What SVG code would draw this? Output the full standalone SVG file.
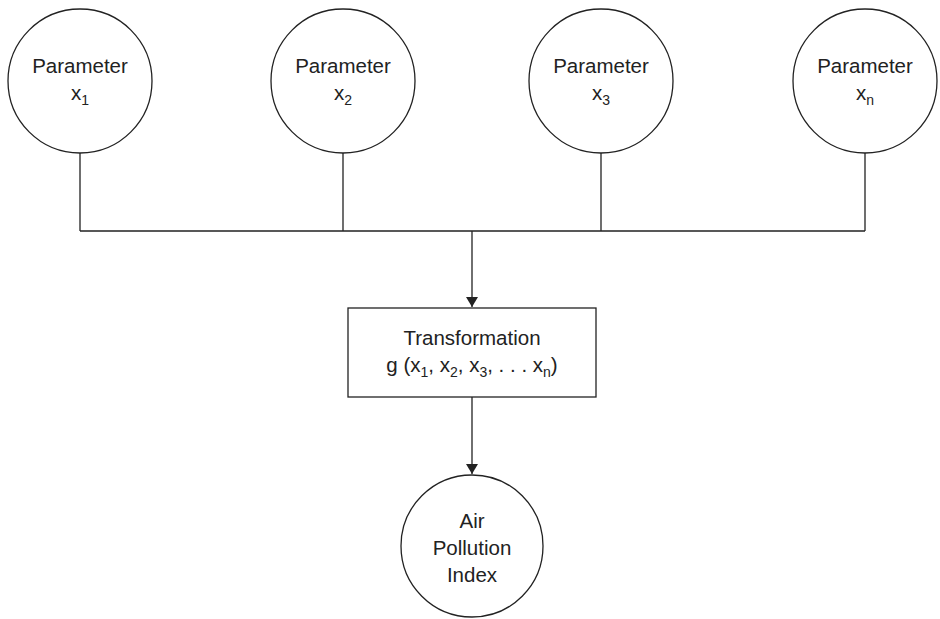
<svg xmlns="http://www.w3.org/2000/svg" width="940" height="619" viewBox="0 0 940 619">
<style>
.node{fill:#fff;stroke:#222;stroke-width:1.3}
.lbl{font-family:"Liberation Sans",Arial,sans-serif;font-size:20.5px;fill:#222;text-anchor:middle}
.sub{font-size:14px}
.conn{fill:none;stroke:#222;stroke-width:1.3}
</style>
<defs>
<marker id="arr" markerWidth="10" markerHeight="12" refX="10" refY="6" orient="auto" markerUnits="userSpaceOnUse">
<path d="M0,0 L10,6 L0,12 Z" fill="#222"/>
</marker>
</defs>
<rect width="940" height="619" fill="#fff"/>
<g id="connectors">
<path class="conn" d="M80,153 V231 M343,153 V231 M601,153 V231 M865,153 V231 M80,231 H865"/>
<path class="conn" d="M472,231 V307" marker-end="url(#arr)"/>
<path class="conn" d="M472,397 V474" marker-end="url(#arr)"/>
</g>
<g id="param1">
<circle class="node" cx="80" cy="81" r="72"/>
<text class="lbl" x="80" y="73">Parameter</text>
<text class="lbl" x="80" y="100">x<tspan class="sub" dy="5">1</tspan></text>
</g>
<g id="param2">
<circle class="node" cx="343" cy="81" r="72"/>
<text class="lbl" x="343" y="73">Parameter</text>
<text class="lbl" x="343" y="100">x<tspan class="sub" dy="5">2</tspan></text>
</g>
<g id="param3">
<circle class="node" cx="601" cy="81" r="72"/>
<text class="lbl" x="601" y="73">Parameter</text>
<text class="lbl" x="601" y="100">x<tspan class="sub" dy="5">3</tspan></text>
</g>
<g id="paramn">
<circle class="node" cx="865" cy="81" r="72"/>
<text class="lbl" x="865" y="73">Parameter</text>
<text class="lbl" x="865" y="100">x<tspan class="sub" dy="5">n</tspan></text>
</g>
<g id="transformation">
<rect class="node" x="348" y="308" width="248" height="89"/>
<text class="lbl" x="472" y="345">Transformation</text>
<text class="lbl" x="472" y="372">g (x<tspan class="sub" dy="5">1</tspan><tspan dy="-5">, x</tspan><tspan class="sub" dy="5">2</tspan><tspan dy="-5">, x</tspan><tspan class="sub" dy="5">3</tspan><tspan dy="-5">, . . . x</tspan><tspan class="sub" dy="5">n</tspan><tspan dy="-5">)</tspan></text>
</g>
<g id="api">
<circle class="node" cx="472" cy="546" r="71"/>
<text class="lbl" x="472" y="528">Air</text>
<text class="lbl" x="472" y="555">Pollution</text>
<text class="lbl" x="472" y="582">Index</text>
</g>
</svg>
